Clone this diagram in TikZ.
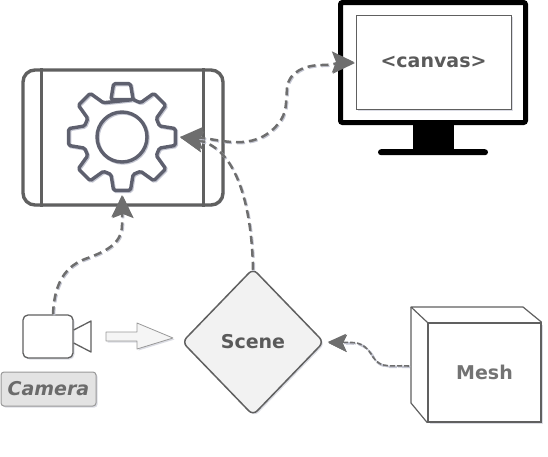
\documentclass[tikz,border=0pt]{standalone}
\usepackage{fontspec}
\setmainfont{DejaVu Sans}
\usetikzlibrary{arrows.meta,shadows,shapes.geometric}
\definecolor{inkgray}{HTML}{606060}
\definecolor{geargray}{HTML}{5E606E}
\definecolor{textgray}{HTML}{5A5A5A}
\definecolor{linkgray}{HTML}{6E6E6E}
\definecolor{shadegray}{HTML}{C4C6D2}
\begin{document}
\begin{tikzpicture}[
    x=1pt,
    y=1pt,
    >={Stealth[length=22pt, width=21pt, inset=4pt, color=linkgray]},
    softshade/.style={
        drop shadow={shadow xshift=1.5pt, shadow yshift=-1.5pt, opacity=0.6, fill=shadegray}
    },
    frame/.style={
        draw=inkgray,
        line width=3.4pt,
        fill=white,
        rounded corners=12pt,
        inner sep=0pt,
        softshade
    },
    gearline/.style={
        draw=geargray,
        line width=3.4pt,
        line join=round,
        preaction={draw=shadegray, line width=3.4pt, transform canvas={xshift=1pt, yshift=-1pt}}
    },
    label/.style={
        font=\bfseries\fontsize{19}{23}\selectfont,
        text=textgray
    },
    link/.style={
        draw=linkgray,
        line width=2.5pt,
        dash pattern=on 8pt off 5pt,
        preaction={draw=shadegray, line width=2.5pt, dash pattern=on 8pt off 5pt, transform canvas={xshift=1pt, yshift=-1pt}}
    },
    thinlink/.style={
        link,
        line width=1.6pt,
        dash pattern=on 5pt off 2pt,
        >={Stealth[length=18pt, width=17pt, inset=4pt, color=linkgray]},
        preaction={draw=shadegray, line width=1.6pt, dash pattern=on 5pt off 2pt, transform canvas={xshift=1pt, yshift=-1pt}}
    }
]
    \useasboundingbox (0,0) rectangle (548,-456);

    % --- Monitor ---
    \node[draw=black, line width=5pt, rounded corners=2pt, fill=white, minimum width=185pt, minimum height=120pt, inner sep=0pt] (monitor) at (433,-62.5) {};
    \node[draw=inkgray, line width=0.8pt, fill=white, minimum width=155pt, minimum height=94pt, inner sep=0pt, outer sep=2pt, softshade, label] (canvas) at (433.5,-62) {\raisebox{-1.5pt}{<canvas>}};
    \node[fill=black, minimum width=41pt, minimum height=26pt, inner sep=0pt, anchor=north] (stand) at (433.5,-124) {};
    \node[fill=black, rounded corners=3pt, minimum width=110pt, minimum height=6pt, inner sep=0pt, anchor=north] (base) at (433,-149) {};

    % --- Renderer ---
    \node[frame, minimum width=200pt, minimum height=135pt] (app) at (123,-137.5) {};
    \draw[draw=inkgray, line width=3pt] ([xshift=20pt]app.north west) -- ([xshift=20pt]app.south west);
    \draw[draw=inkgray, line width=3pt] ([xshift=-21pt]app.north east) -- ([xshift=-21pt]app.south east);

    % --- Gear ---
    \node[circle, minimum size=108pt, inner sep=0pt, outer sep=4pt] (gear) at (122,-137) {};
    \node[circle, gearline, minimum size=50pt, inner sep=0pt] (hole) at (gear.center) {};
    \draw[gearline, rounded corners=1.5pt, shift={(gear.center)}]
        (73.5:39)
        \foreach \a in {90,45,0,-45,-90,-135,180,135} {
            -- ({\a+16.5}:39) -- ({\a+9}:54) -- ({\a-9}:54) -- ({\a-16.5}:39)
        } -- cycle;

    % --- Camera ---
    \node[frame, line width=1.3pt, rounded corners=5pt, minimum width=50pt, minimum height=43pt] (camera) at (48,-336.5) {};
    \draw[draw=inkgray, line width=1.3pt, line join=round] (camera.east |- 73,-330) -- (91,-321) -- (91,-352) -- (camera.east |- 73,-343);
    \node[draw=gray!80, line width=1pt, fill=gray!22, rounded corners=3pt, minimum width=95pt, minimum height=34pt, inner sep=0pt, softshade, label, font=\bfseries\itshape\fontsize{19}{23}\selectfont, text=black!58] (cameralabel) at (48.5,-389) {Camera};

    % --- Block arrow ---
    \draw[draw=gray!80, fill=gray!8, line width=0.8pt, line join=round, softshade]
        (106,-332) -- (137,-332) -- (137,-323) -- (173,-338) -- (137,-349) -- (137,-341) -- (106,-341) -- cycle;

    % --- Scene ---
    \node[diamond, shape aspect=1, draw=inkgray, line width=1.5pt, fill=gray!10, rounded corners=6pt, minimum width=142pt, minimum height=147pt, inner sep=0pt, softshade, label] (scene) at (253,-342) {Scene};

    % --- Mesh ---
    \node[draw=inkgray, line width=1.4pt, fill=white, minimum width=113pt, minimum height=99pt, inner sep=0pt, softshade, label, text=black!55] (mesh) at (484.5,-372.5) {Mesh};
    \coordinate (meshback) at (411,-307);
    \coordinate (meshside) at (411,-403);
    \coordinate (meshport) at (409,-366);
    \draw[draw=inkgray, line width=1.2pt, line join=round]
        (mesh.north west) -- (meshback) -- (523,-307) -- (mesh.north east);
    \draw[draw=inkgray, line width=1.2pt, line join=round]
        (meshback) -- (meshside) -- (mesh.south west);

    % --- Connectors ---
    \draw[link, ->]
        ([xshift=5pt]camera.north)
        to[out=88,in=-160] (85,-259)
        to[out=20,in=-90] (122,-225)
        -- (gear.south);
    \draw[link, ->]
        ([yshift=-2pt]scene.north)
        to[out=91,in=-10] (gear.east);
    \draw[link, <->]
        (gear.east)
        to[out=-2,in=-130] (278,-124)
        to[out=50,in=-95] (287,-88)
        to[out=85,in=180] (322,-65)
        to[out=0,in=180] (canvas.west);
    \draw[thinlink, ->]
        (meshport)
        to[out=175,in=-60] (373,-357)
        to[out=120,in=0] (352,-342.5)
        -- ([xshift=3pt]scene.east);
\end{tikzpicture}
\end{document}
